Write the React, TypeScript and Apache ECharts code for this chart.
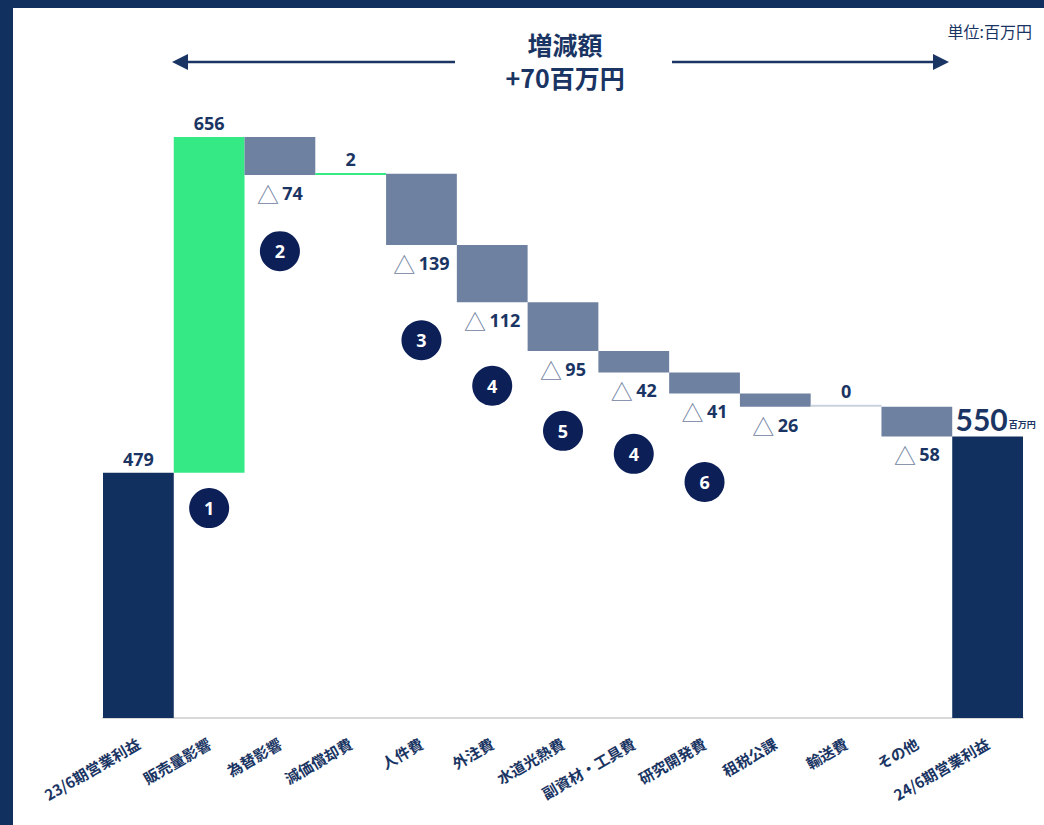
import React, { useEffect, useRef } from "react";
import * as echarts from "echarts";

const categories = [
  "23/6期営業利益",
  "販売量影響",
  "為替影響",
  "減価償却費",
  "人件費",
  "外注費",
  "水道光熱費",
  "副資材・工具費",
  "研究開発費",
  "租税公課",
  "輸送費",
  "その他",
  "24/6期営業利益",
];
const deltas = [479, 656, -74, 2, -139, -112, -95, -42, -41, -26, 0, -58, 550];
const isTotal = [true, false, false, false, false, false, false, false, false, false, false, false, true];

const badgeCats = [1, 2, 4, 5, 6, 7, 8];
const badgeNums = ["1", "2", "3", "4", "5", "4", "6"];
const badgeLevels = [410, 912, 738, 649, 561, 516, 461];

const titleLine1 = "増減額";
const titleLine2 = "+70百万円";
const unitText = "単位:百万円";

const NAVY = "#12305f";
const TEXT = "#1a3563";
const GREEN = "#35ea84";
const GREY = "#6f81a0";
const ZERO = "#c9d1dd";
const BADGE = "#0c1f57";
const FONT = "'Noto Sans CJK JP', 'Noto Sans', sans-serif";

export default function App() {
  const ref = useRef<HTMLDivElement>(null);

  useEffect(() => {
    if (!ref.current) return;
    const chart = echarts.init(ref.current, undefined, { renderer: "svg" });

    const bases: number[] = [];
    const heights: number[] = [];
    let running = 0;
    deltas.forEach((d, i) => {
      if (isTotal[i]) {
        bases.push(0);
        heights.push(d);
        running = d;
      } else if (d >= 0) {
        bases.push(running);
        heights.push(d);
        running += d;
      } else {
        running += d;
        bases.push(running);
        heights.push(-d);
      }
    });

    const last = deltas.length - 1;
    const barData = heights.map((h, i) => {
      const d = deltas[i];
      let color = GREY;
      if (isTotal[i]) color = NAVY;
      else if (d > 0) color = GREEN;
      else if (d === 0) color = ZERO;
      let label: any;
      if (i === last) {
        label = {
          show: true,
          position: "top",
          distance: 2,
          offset: [8, 0],
          formatter: "{big|" + d + "}{unit|百万円}",
          rich: {
            big: { fontSize: 30, fontWeight: "bold", color: TEXT, fontFamily: "Lato, 'Noto Sans', sans-serif" },
            unit: { fontSize: 9, fontWeight: "bold", color: TEXT, fontFamily: FONT, padding: [10, 0, 0, 1] },
          },
        };
      } else if (isTotal[i] || d >= 0) {
        label = {
          show: true,
          position: "top",
          distance: 5,
          formatter: String(d),
          fontSize: 18,
          fontWeight: "bold",
          color: TEXT,
          fontFamily: "'Open Sans', 'Noto Sans', sans-serif",
        };
      } else {
        label = {
          show: true,
          position: "bottom",
          distance: 7,
          formatter: "{tri|△} {num|" + -d + "}",
          rich: {
            tri: { fontSize: 22, color: GREY, fontFamily: FONT },
            num: { fontSize: 18, fontWeight: "bold", color: TEXT, fontFamily: "'Open Sans', 'Noto Sans', sans-serif" },
          },
        };
      }
      return { value: h, itemStyle: { color }, label };
    });

    const badgeData = badgeCats.map((c, i) => ({
      value: [c, badgeLevels[i]],
      label: { formatter: badgeNums[i] },
    }));

    chart.setOption({
      animation: false,
      backgroundColor: "#ffffff",
      grid: { left: 103, right: 21, top: 137, bottom: 107, containLabel: false },
      xAxis: {
        type: "category",
        data: categories,
        axisLine: { show: true, lineStyle: { color: "#d9d9d9", width: 2 } },
        axisTick: { show: false },
        axisLabel: {
          interval: 0,
          rotate: 30,
          margin: 24,
          fontSize: 15,
          fontWeight: "bold",
          color: TEXT,
          fontFamily: FONT,
        },
      },
      yAxis: {
        type: "value",
        min: 0,
        max: 1135,
        show: false,
        splitLine: { show: false },
      },
      series: [
        {
          type: "bar",
          stack: "wf",
          data: bases,
          itemStyle: { color: "transparent" },
          barWidth: "100%",
          silent: true,
        },
        {
          type: "bar",
          stack: "wf",
          data: barData,
          barWidth: "100%",
          barMinHeight: 2,
        },
        {
          type: "scatter",
          data: badgeData,
          symbol: "circle",
          symbolSize: 40,
          itemStyle: { color: BADGE, opacity: 1 },
          label: {
            show: true,
            position: "inside",
            color: "#ffffff",
            fontSize: 18,
            fontWeight: "bold",
            fontFamily: "'Open Sans', 'Noto Sans', sans-serif",
          },
          z: 5,
        },
      ],
      graphic: [
        { type: "rect", left: 0, top: 0, shape: { width: 1044, height: 8 }, style: { fill: NAVY } },
        { type: "rect", left: 0, top: 0, shape: { width: 13, height: 825 }, style: { fill: NAVY } },
        {
          type: "text",
          x: 565,
          y: 44,
          style: {
            text: titleLine1,
            textAlign: "center",
            textVerticalAlign: "middle",
            fontSize: 25,
            fontWeight: "bold",
            fill: TEXT,
            fontFamily: FONT,
          },
        },
        {
          type: "text",
          x: 565,
          y: 77,
          style: {
            text: titleLine2,
            textAlign: "center",
            textVerticalAlign: "middle",
            fontSize: 25,
            fontWeight: "bold",
            fill: TEXT,
            fontFamily: FONT,
          },
        },
        {
          type: "text",
          x: 1032,
          y: 31,
          style: {
            text: unitText,
            textAlign: "right",
            textVerticalAlign: "middle",
            fontSize: 16,
            fill: TEXT,
            fontFamily: FONT,
          },
        },
        { type: "line", shape: { x1: 186, y1: 62, x2: 455, y2: 62 }, style: { stroke: TEXT, lineWidth: 2.5 } },
        { type: "polygon", shape: { points: [[172, 62], [188, 54], [188, 70]] }, style: { fill: TEXT } },
        { type: "line", shape: { x1: 672, y1: 62, x2: 935, y2: 62 }, style: { stroke: TEXT, lineWidth: 2.5 } },
        { type: "polygon", shape: { points: [[949, 62], [933, 54], [933, 70]] }, style: { fill: TEXT } },
      ],
    });

    return () => chart.dispose();
  }, []);

  return (
    <div
      ref={ref}
      style={{ position: "fixed", left: 0, top: 0, width: 1044, height: 825, background: "#fff" }}
    />
  );
}
